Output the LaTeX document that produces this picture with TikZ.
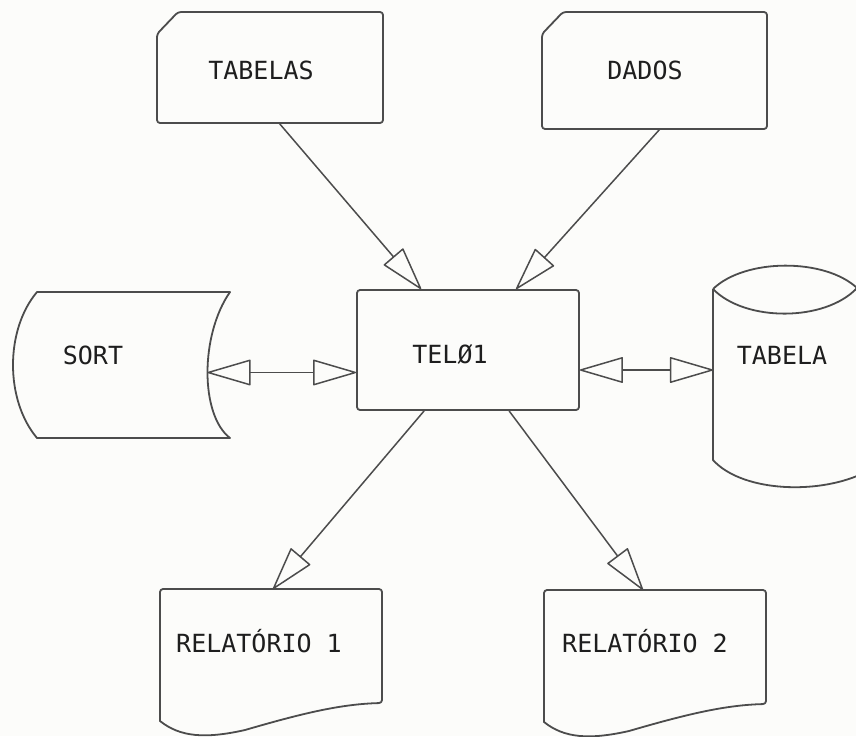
\documentclass[tikz,border=0pt]{standalone}
\usepackage{fontspec}
\newfontfamily\flowfont{DejaVu Sans Mono}
\usetikzlibrary{arrows.meta,calc}
\definecolor{ink}{HTML}{4C4C4C}
\definecolor{txt}{HTML}{1E1E1E}
\definecolor{paper}{HTML}{FCFCFA}
\tikzset{
  outline/.style={draw=ink, line width=1.8pt, line join=round, rounded corners=3pt},
  curvedline/.style={draw=ink, line width=1.8pt, line join=round},
  symtext/.style={font=\flowfont\fontsize{25}{30}\selectfont, text=txt,
    inner sep=0pt, text height=18pt, text depth=0pt},
  opentip/.tip={Triangle[open, length=45pt, width=26pt, line join=round]},
  flow/.style={draw=ink, line width=1.5pt, -opentip},
  flowboth/.style={draw=ink, line width=1.5pt, opentip-opentip},
  report/.pic={
    \draw[curvedline, rounded corners=3pt] (0,132) -- (0,0) -- (222,0) -- (222,114)
      [sharp corners] .. controls (180,115) and (140,125) .. (85,141)
      .. controls (45,150) and (20,148) .. (0,132) -- cycle;
  },
}
\begin{document}
\begin{tikzpicture}[x=1pt, y=-1pt]
  \useasboundingbox (0,0) rectangle (856,736);
  \clip (0,0) rectangle (856,736);
  \fill[paper] (0,0) rectangle (856,736);

  % punched-card inputs
  \draw[outline] (157,34) -- (178,12) -- (383,12) -- (383,123) -- (157,123) -- cycle;
  \node[symtext] (tabelas) at (261,70) {TABELAS};
  \draw[outline] (542,34) -- (563,12) -- (767,12) -- (767,129) -- (542,129) -- cycle;
  \node[symtext] (dados) at (645,70) {DADOS};

  % program box
  \node[outline, minimum width=222pt, minimum height=120pt] (tel) at (468,350) {};
  \node[symtext] (teltext) at (450,354) {TELØ1};

  % sort (sequential storage)
  \draw[curvedline] (37,292) -- (230,292)
    .. controls (200,335) and (200,415) .. (230,438)
    -- (37,438)
    .. controls (5,400) and (5,330) .. (37,292) -- cycle;
  \node[symtext] (sort) at (93,355) {SORT};
  \coordinate (sortE) at (207.5,372.5);

  % disk file
  \draw[curvedline] (713,289) .. controls (745,258) and (825,258) .. (857,288);
  \draw[curvedline] (713,289) .. controls (745,322) and (825,322) .. (857,288);
  \draw[curvedline] (713,289) -- (713,460)
    .. controls (740,490) and (810,495) .. (857,476);
  \node[symtext] (tabela) at (782,355) {TABELA};
  \coordinate (tabelaW) at (713,370);

  % printed reports
  \pic at (160,589) {report};
  \node[symtext] (rel1) at (259,643) {RELATÓRIO 1};
  \coordinate (rel1top) at (273,589);
  \pic at (544,590) {report};
  \node[symtext] (rel2) at (645,643) {RELATÓRIO 2};
  \coordinate (rel2top) at (643,590);

  % connectors
  \coordinate (tabelasOut) at (279,123);
  \coordinate (dadosOut) at (660,129);
  \draw[flow] (tabelasOut) -- ($(tel.north west)+(65,0)$);
  \draw[flow] (dadosOut) -- ($(tel.north west)+(160,0)$);
  \draw[flowboth] (sortE) -- (sortE -| tel.west);
  \draw[flowboth] (tabelaW -| tel.east) -- (tabelaW);
  \draw[flow] ($(tel.south west)+(68,0)$) -- (rel1top);
  \draw[flow] ($(tel.south west)+(153,0)$) -- (rel2top);
\end{tikzpicture}
\end{document}
